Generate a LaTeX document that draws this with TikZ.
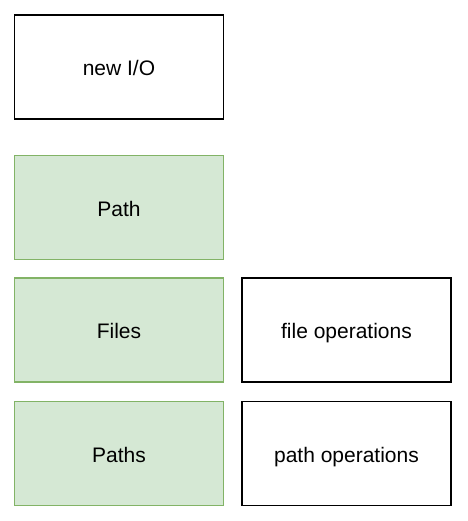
\documentclass[tikz,border=0pt]{standalone}
\usepackage{fontspec}
\setmainfont{Liberation Sans}
\usepackage{tikz}
\usetikzlibrary{positioning}
\definecolor{greenfill}{HTML}{D5E8D4}
\definecolor{greenline}{HTML}{82B366}
\tikzstyle{box} = [draw, line width=1.5pt, minimum width=209pt, minimum height=104pt, font=\fontsize{21}{24}\selectfont, text height=19pt, text depth=2pt]
\tikzstyle{greenbox} = [box, draw=greenline, fill=greenfill]

\begin{document}
\begin{tikzpicture}[node distance=17pt]
\useasboundingbox (0,0) rectangle (467pt,-521pt);
\node (newio) [box] at (119pt,-67pt) {new I/O};
\node (path) [greenbox, below=35pt of newio] {Path};
\node (files) [greenbox, below=of path] {Files};
\node (paths) [greenbox, below=18pt of files] {Paths};

\node (fileops) [box, right=of files] {file operations};
\node (pathops) [box, right=of paths] {path operations};
\end{tikzpicture}
\end{document}
